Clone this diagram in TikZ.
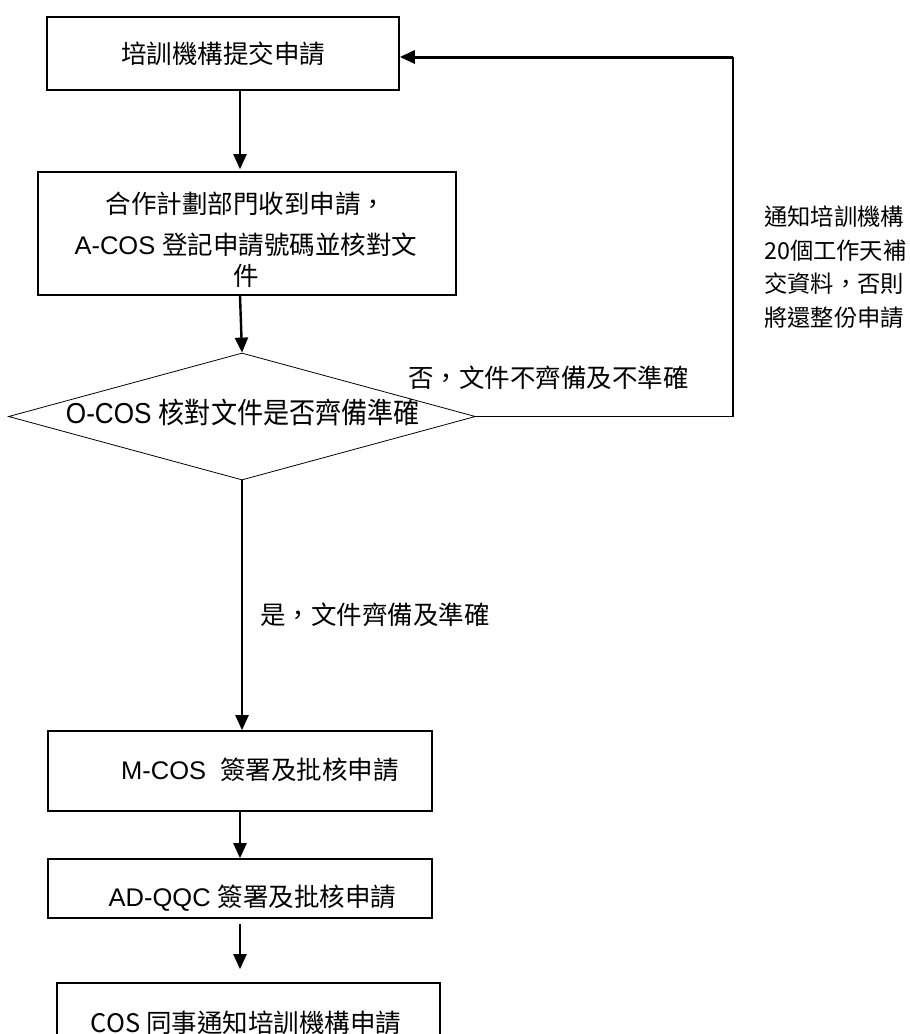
\documentclass[tikz,border=0pt]{standalone}
\usepackage{fontspec}
\usepackage{graphicx}
\setmainfont{Liberation Sans}
\newfontfamily\cjk{Noto Sans CJK TC}
\usetikzlibrary{arrows.meta,shapes.geometric}
\newcommand\myfs{\fontsize{25.5}{41}\selectfont}
\begin{document}
\begin{tikzpicture}[x=1pt,y=-1pt,
  box/.style={draw, line width=1.6pt, inner sep=0pt, font=\myfs},
  arr/.style={line width=2.4pt, -{Triangle[length=15pt,width=13pt]}},
  fbline/.style={line width=1.7pt},
  lbl/.style={inner sep=0pt, font=\myfs}]
\clip (0,0) rectangle (910,1034);
\fill[white] (0,0) rectangle (910,1034);
\coordinate (axis) at (240,0);

% boxes
\node[box, minimum width=352pt, minimum height=73pt] (b1) at (223,53.5) {\cjk 培訓機構提交申請};
\node[box, minimum width=418pt, minimum height=123pt] (b2) at (247,233.5) {};
\node[lbl, align=center] (t2) at (246,240) {{\cjk 合作計劃部門收到申請，}\\A-COS {\cjk 登記申請號碼並核對文}\\[-10pt]{\cjk 件}};

\node[draw, diamond, line width=0.8pt, minimum width=467pt, minimum height=127pt, inner sep=0pt] (d) at (242,416.5) {};
\node[lbl] (dt) at (243,413) {\scalebox{0.95}[1.05]{\fontsize{27.5}{30}\selectfont O-COS {\cjk 核對文件是否齊備準確}}};

\node[box, minimum width=384pt, minimum height=80pt] (m) at (240,771) {};
\node[lbl] (mt) at (260,770) {M-COS\ \ {\cjk 簽署及批核申請}};

\node[box, minimum width=384pt, minimum height=59pt] (a) at (240,888.5) {};
\node[lbl] (at) at (252.5,898) {AD-QQC {\cjk 簽署及批核申請}};

\node[box, minimum width=383pt, minimum height=80pt] (c) at (248.5,1023) {};
\node[lbl] (ct) at (246,1023) {\cjk COS 同事通知培訓機構申請};

% connectors
\draw[arr, shorten >=2pt] (b1.south -| axis) -- (b2.north -| axis);
\draw[arr] (b2.south -| axis) -- (d.north);
\draw[arr] (d.south) -- (m.north -| d.south);
\draw[arr] (m.south) -- (a.north);
\draw[arr, shorten <=5pt, shorten >=13pt] (a.south) -- (c.north -| a.south);

\coordinate (fb1) at (733,416.5);
\coordinate (fb2) at (733,57);
\draw[fbline] (d.east) -- (fb1) -- (fb2);
\draw[arr, line width=3pt] (fb2) -- (b1.east |- fb2);

% labels
\node[lbl] (no) at (548.5,378) {\cjk 否，文件不齊備及不準確};
\node[lbl] (yes) at (375,615) {\cjk 是，文件齊備及準確};
\node[inner sep=0pt, anchor=west, align=left, font=\cjk\fontsize{23.3}{33.5}\selectfont] (note) at (764,267)
  {通知培訓機構\\20個工作天補\\交資料，否則\\將還整份申請};
\end{tikzpicture}
\end{document}
